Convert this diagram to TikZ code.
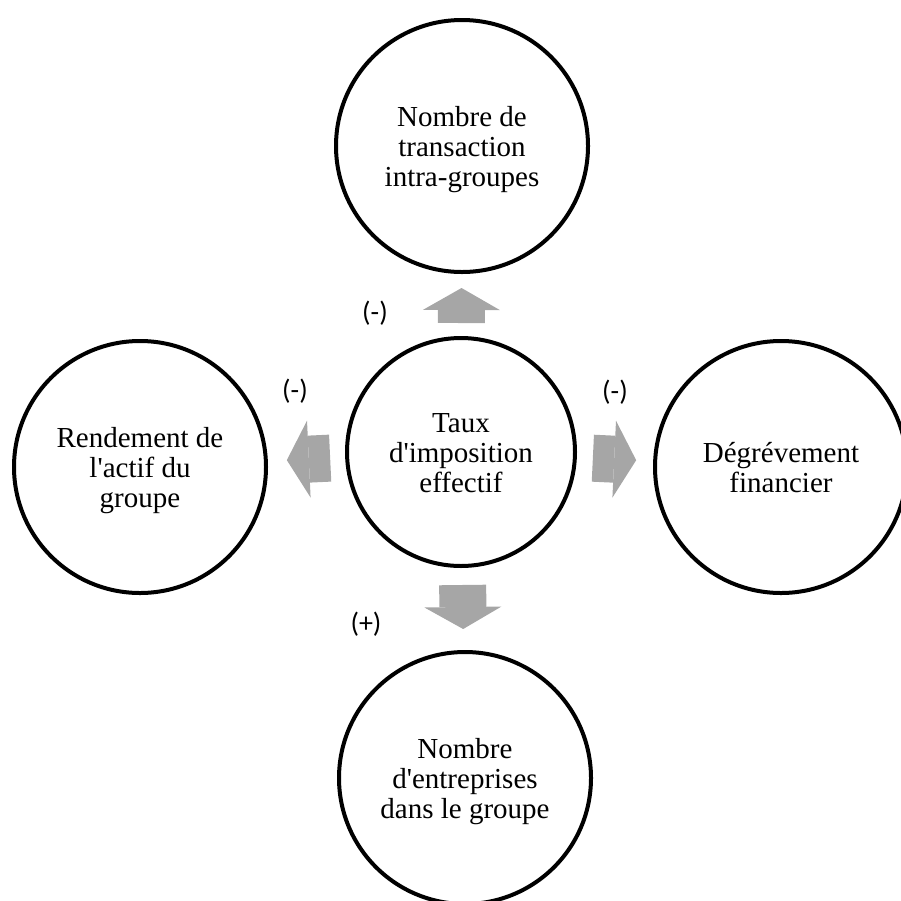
\documentclass[tikz,border=0pt]{standalone}
\usepackage{fontspec}
\setmainfont{Liberation Serif}
\newfontfamily\signfont{Carlito}
\usetikzlibrary{arrows.meta}
\definecolor{arrowgray}{RGB}{166,166,166}
\newcommand{\ap}{\textquotesingle}
\newcommand{\lines}[1]{\rule{0pt}{29pt}#1\rule[-9pt]{0pt}{9pt}}

\begin{document}
\begin{tikzpicture}[x=1pt,y=-1pt,
	bubble/.style={circle,draw,line width=4pt,minimum size=252pt,inner sep=0pt,align=center,
		font=\fontsize{29}{30}\selectfont},
	sign/.style={font=\signfont\fontsize{28}{30}\selectfont},
	fat/.style 2 args={arrowgray,line width=47pt,-{Triangle[width=77pt,length=22pt,line width=0pt]},
		shorten <=#1,shorten >=#2}]
	\useasboundingbox (0,0) rectangle (901,900);

	\node[bubble,minimum size=228pt] (taux) at (461,452) {\lines{Taux\\d\ap imposition\\effectif}};
	\node[bubble] (trans) at (462,146) {\lines{Nombre de\\transaction\\intra-groupes}};
	\node[bubble] (rend) at (140,467) {\lines{Rendement de\\l\ap actif du\\groupe}};
	\node[bubble] (degr) at (781,467) {\lines{Dégrévement\\financier}};
	\node[bubble] (entr) at (465,778) {\lines{Nombre\\d\ap entreprises\\dans le groupe}};

	\draw[fat={129pt}{142pt}] (taux.center) -- (trans.center);
	\draw[fat={131pt}{147pt}] (taux.center) -- (rend.center);
	\draw[fat={132pt}{145pt}] (taux.center) -- (degr.center);
	\draw[fat={133pt}{149pt}] (taux.center) -- (entr.center);

	\node[sign] (s1) at (375,313) {(-)};
	\node[sign] (s2) at (295,391) {(-)};
	\node[sign] (s3) at (615,392) {(-)};
	\node[sign] (s4) at (366,624) {(+)};
\end{tikzpicture}
\end{document}
